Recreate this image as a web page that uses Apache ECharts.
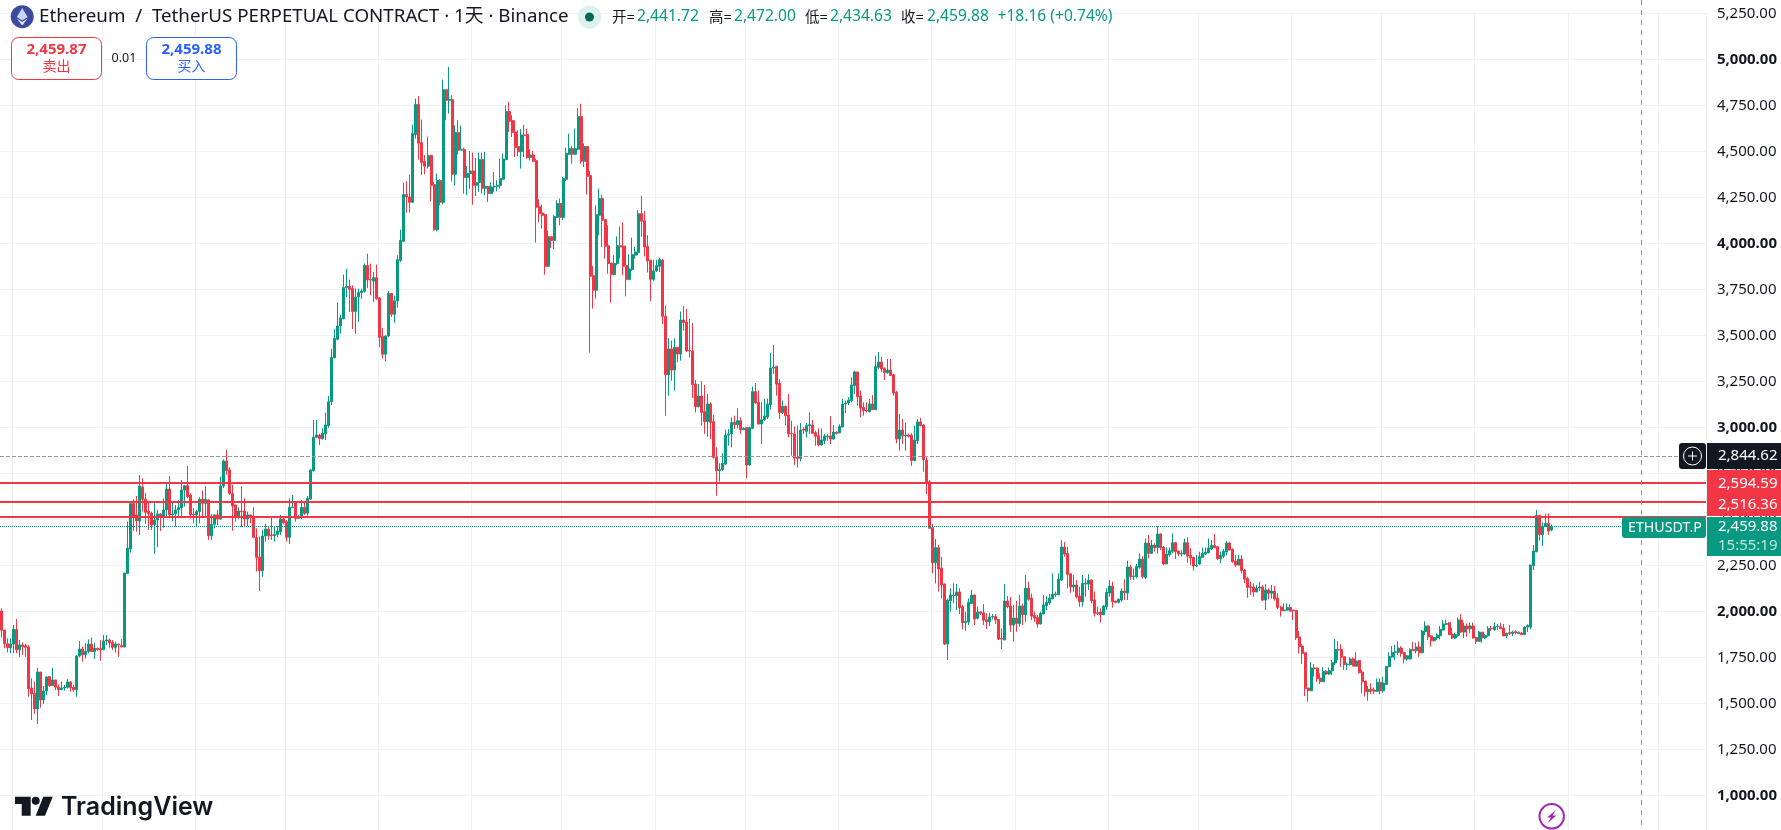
<!DOCTYPE html>
<html><head><meta charset="utf-8">
<style>html,body{margin:0;padding:0;background:#fff;overflow:hidden;height:830px}#c{width:1781px;height:860px}</style>
<script src="https://cdn.jsdelivr.net/npm/echarts@6/dist/echarts.min.js"></script>
</head><body><div id="c"></div>
<script>
// every row: open, close, high, low
const springBars = [
[2002,1897,2016,1858],[1898,1824,1898,1799],[1824,1802,1853,1777],[1802,1822,1853,1772],[1822,1902,1926,1772],[1902,1791,1958,1772],[1791,1817,1844,1753],[1817,1808,1831,1763],[1813,1804,1822,1753],[1806,1579,1817,1536],
[1583,1551,1636,1409],[1554,1469,1618,1442],[1469,1670,1692,1387],[1670,1518,1670,1476],[1518,1567,1594,1496],[1567,1643,1645,1545],[1645,1596,1645,1590],[1596,1627,1692,1596],[1627,1587,1627,1572],[1589,1574,1603,1540],
[1574,1583,1618,1572],[1583,1587,1600,1569],[1587,1616,1632,1580],[1616,1585,1621,1563],[1587,1574,1600,1563],[1574,1757,1762,1536],[1757,1795,1839,1750],[1795,1764,1808,1726],[1764,1782,1826,1744],[1782,1822,1848,1772],
[1822,1781,1858,1781],[1781,1799,1830,1741],[1799,1793,1802,1785],[1797,1791,1844,1732],[1791,1839,1871,1790],[1839,1844,1871,1817],[1844,1828,1853,1802],[1831,1804,1844,1790],[1804,1822,1835,1775],[1822,1817,1822,1753],
[1813,1806,1848,1804],[1806,2208,2208,1804],[2205,2344,2487,2205],[2339,2585,2600,2319],[2585,2514,2610,2437],[2524,2491,2627,2433],[2491,2681,2741,2415],[2676,2609,2723,2542],[2609,2538,2645,2475],[2544,2531,2596,2442],
[2533,2469,2542,2442],[2469,2496,2587,2312],[2496,2529,2551,2348],[2529,2515,2533,2437],[2515,2551,2614,2455],[2551,2665,2701,2515],[2665,2524,2736,2505],[2524,2529,2590,2490],[2529,2551,2578,2460],[2551,2563,2605,2511],
[2563,2659,2714,2511],[2659,2683,2687,2569],[2683,2623,2790,2614],[2632,2524,2641,2505],[2527,2524,2560,2478],[2524,2542,2551,2464],[2542,2609,2620,2478],[2609,2587,2656,2515],[2587,2609,2681,2515],[2605,2411,2609,2388],
[2411,2473,2529,2388],[2473,2524,2524,2451],[2524,2502,2551,2469],[2502,2681,2732,2496],[2681,2817,2826,2669],[2817,2765,2877,2741],[2768,2641,2783,2632],[2641,2572,2687,2438],[2578,2514,2578,2487],[2514,2545,2565,2500],
[2545,2542,2681,2457],[2545,2502,2614,2457],[2502,2524,2542,2464],[2524,2515,2524,2478],[2518,2402,2565,2397],[2402,2292,2451,2216],[2294,2221,2406,2110],[2221,2409,2442,2188],[2409,2447,2475,2379],[2447,2411,2460,2388],
[2415,2411,2514,2388],[2411,2418,2460,2379],[2418,2437,2464,2402],[2433,2502,2524,2415],[2502,2482,2516,2473],[2487,2402,2496,2379],[2402,2565,2614,2366],[2565,2567,2632,2560],[2596,2505,2596,2487],[2505,2515,2525,2505],
[2515,2565,2605,2500],[2565,2533,2596,2524],[2533,2614,2627,2520],[2610,2768,2772,2605],[2764,2946,3040,2760],[2946,2958,3040,2940],[2958,2939,2965,2904],[2939,2968,2995,2932],[2964,3013,3080,2931],[3009,3139,3170,2998]
];
const summerBars = [
[3139,3379,3428,3120],[3379,3482,3533,3373],[3478,3551,3678,3473],[3551,3594,3612,3509],[3591,3759,3830,3587],[3759,3765,3862,3708],[3765,3750,3803,3627],[3754,3630,3772,3533],[3630,3708,3754,3509],[3708,3732,3754,3573],
[3732,3741,3754,3699],[3739,3879,3890,3732],[3879,3801,3944,3757],[3804,3801,3890,3717],[3794,3813,3844,3681],[3813,3699,3884,3694],[3703,3489,3708,3435],[3493,3397,3540,3373],[3397,3496,3500,3359],[3496,3727,3741,3491],
[3727,3614,3727,3600],[3614,3687,3714,3569],[3687,3911,3935,3650],[3908,4015,4074,3899],[4011,4265,4330,4007],[4265,4252,4337,4167],[4252,4223,4373,4167],[4223,4596,4645,4219],[4592,4754,4787,4569],[4754,4544,4799,4455],
[4547,4439,4672,4370],[4444,4419,4479,4375],[4419,4477,4580,4406],[4477,4315,4482,4228],[4319,4074,4334,4069],[4074,4341,4379,4065],[4341,4223,4348,4207],[4223,4835,4890,4212],[4835,4777,4835,4669],[4777,4781,4959,4705],
[4781,4375,4805,4337],[4375,4602,4642,4315],[4602,4506,4669,4482],[4506,4511,4640,4506],[4511,4357,4520,4270],[4357,4379,4420,4261],[4379,4393,4502,4297],[4393,4315,4493,4210],[4315,4330,4464,4257],[4330,4455,4493,4279],
[4455,4299,4493,4270],[4299,4310,4497,4261],[4310,4270,4306,4225],[4270,4306,4333,4270],[4306,4310,4388,4279],[4310,4314,4343,4283],[4314,4352,4460,4297],[4348,4458,4488,4343],[4455,4716,4750,4451],[4716,4663,4768,4605],
[4667,4602,4696,4578],[4605,4520,4669,4469],[4526,4498,4614,4473],[4498,4589,4620,4406],[4589,4585,4645,4469],[4591,4466,4623,4460],[4466,4480,4511,4451],[4480,4446,4502,4443],[4449,4196,4460,4004],[4199,4161,4239,4116],
[4165,4152,4210,4080],[4156,3875,4161,3830],[3875,4036,4069,3872],[4036,4016,4036,3975],[4016,4145,4152,3968],[4141,4216,4234,4138],[4216,4141,4243,4098],[4141,4352,4361,4127],[4348,4488,4520,4337],[4484,4515,4596,4479],
[4515,4484,4529,4433],[4484,4515,4623,4479],[4511,4689,4736,4506],[4689,4446,4759,4433],[4446,4526,4542,4415],[4526,4364,4529,4265],[4368,3821,4393,3406],[3824,3745,3877,3645],[3745,4156,4207,3699],[4152,4243,4297,4044],
[4243,4125,4265,3980],[4129,3984,4129,3917],[3987,3890,4098,3835],[3893,3830,3893,3678],[3830,3890,3935,3826],[3890,3987,4038,3881],[3987,3980,4092,3917],[3984,3875,4114,3826],[3879,3804,3989,3712],[3804,3861,3940,3799],
[3857,3939,4031,3850],[3935,3953,3980,3917],[3949,4161,4180,3935],[4161,4120,4259,4035],[4123,3980,4176,3929],[3984,3904,4044,3841],[3908,3804,3908,3685],[3804,3850,3911,3794],[3850,3879,3911,3844],[3875,3911,3922,3844]
];
const autumnBars = [
[3909,3603,3915,3561],[3603,3286,3661,3063],[3286,3426,3484,3172],[3426,3311,3471,3253],[3311,3435,3484,3199],[3435,3398,3435,3353],[3398,3583,3629,3362],[3583,3569,3658,3525],[3572,3415,3643,3411],[3418,3415,3589,3380],
[3415,3232,3567,3159],[3235,3112,3257,3081],[3112,3170,3235,3108],[3170,3081,3250,3009],[3085,3031,3230,2964],[3031,3127,3181,2951],[3127,3027,3136,2936],[3031,2837,3067,2830],[2840,2764,2891,2628],[2764,2770,2804,2705],
[2770,2804,2860,2764],[2800,2958,2987,2795],[2958,2964,2991,2900],[2964,3027,3054,2891],[3027,3014,3063,2991],[3014,3036,3103,2994],[3036,2987,3054,2964],[2987,2994,3000,2985],[2998,2795,3000,2724],[2795,2998,3003,2790],
[2994,3194,3221,2990],[3194,3132,3241,3127],[3136,3018,3199,3015],[3018,3041,3136,2909],[3041,3060,3154,3036],[3056,3127,3157,3045],[3123,3322,3404,3096],[3322,3326,3447,3290],[3330,3235,3335,3172],[3239,3081,3262,3045],
[3081,3114,3145,3072],[3114,3063,3118,3012],[3067,2964,3181,2945],[2967,2964,3036,2846],[2964,2833,3005,2795],[2837,2831,3009,2782],[2831,2985,3023,2815],[2991,2985,3000,2964],[2978,3009,3023,2945],[3009,3014,3081,2964],
[3012,2967,3040,2965],[2971,2951,2982,2900],[2954,2904,2994,2896],[2904,2931,2994,2900],[2927,2953,2964,2909],[2949,2953,2964,2927],[2953,2936,3060,2909],[2936,2974,3012,2933],[2974,2967,2978,2960],[2970,3005,3016,2967],
[3002,3127,3154,3000],[3127,3132,3145,3078],[3132,3148,3163,3121],[3145,3230,3272,3136],[3226,3301,3308,3181],[3301,3166,3301,3118],[3170,3105,3199,3054],[3108,3090,3136,3063],[3094,3089,3136,3081],[3085,3127,3154,3081],
[3127,3096,3176,3094],[3096,3330,3389,3094],[3326,3355,3409,3317],[3355,3317,3384,3299],[3320,3297,3326,3257],[3297,3311,3371,3290],[3311,3282,3371,3281],[3286,3186,3290,3172],[3190,2936,3199,2913],[2936,2985,3072,2873],
[2985,2954,3045,2909],[2954,2958,3027,2873],[2958,2951,2965,2945],[2958,2819,2967,2791],[2819,2931,3009,2815],[2927,3029,3045,2909],[3029,3009,3051,3005],[3012,2824,3018,2759]
];
const winterBars = [
[2822,2701,2837,2637],[2704,2451,2714,2451],[2454,2264,2474,2206],[2264,2346,2393,2152],[2346,2230,2360,2107],[2235,2143,2297,2070],[2148,1822,2152,1817],[1822,2061,2070,1735],[2058,2088,2125,1998],[2085,2088,2152,2043],
[2085,2105,2148,2007],[2105,2020,2125,1985],[2025,1938,2034,1902],[1938,1945,1998,1895],[1942,2049,2070,1925],[2043,2088,2116,2040],[2088,1958,2092,1925],[1962,1996,2025,1956],[1996,1989,2000,1980],[1992,1951,2039,1925],
[1954,1943,1989,1904],[1943,1969,1992,1920],[1969,1972,1985,1956],[1972,1953,1985,1931],[1956,1849,1958,1844],[1853,1849,1907,1795],[1844,2056,2148,1844],[2056,2025,2083,2016],[2029,1925,2079,1889],[1925,1963,2034,1835],
[1963,1934,2056,1889],[1934,2029,2088,1916],[2029,1981,2043,1925],[1981,2126,2197,1943],[2126,2065,2161,2058],[2072,1974,2097,1952],[1978,1963,1998,1943],[1967,1931,1980,1911],[1931,1989,1998,1929],[1985,2034,2088,1985],
[2030,2049,2083,2007],[2045,2072,2094,2034],[2068,2094,2206,2065],[2090,2094,2107,2079],[2090,2175,2206,2088],[2170,2349,2387,2165],[2349,2311,2376,2297],[2315,2201,2351,2125],[2204,2132,2204,2101],[2132,2143,2197,2107],
[2143,2079,2170,2070],[2083,2052,2134,2025],[2052,2152,2197,2025],[2148,2152,2179,2079],[2148,2170,2201,2116],[2170,2058,2174,2043],[2061,1989,2107,1971],[1992,1989,2025,1980],[1996,1981,2016,1938],[1981,2029,2034,1980],
[2025,2103,2125,2007],[2099,2137,2170,2079],[2137,2052,2161,2020],[2056,2049,2056,2043],[2049,2065,2070,2043],[2061,2110,2125,2052],[2110,2101,2174,2061],[2099,2241,2275,2061],[2241,2188,2252,2170],[2188,2192,2233,2170],
[2188,2243,2257,2179],[2239,2284,2315,2232],[2284,2188,2300,2179],[2184,2371,2396,2175],[2371,2315,2415,2288],[2315,2360,2387,2311],[2360,2346,2369,2324],[2346,2420,2464,2315],[2420,2346,2424,2333],[2349,2257,2355,2251],
[2257,2311,2347,2257],[2307,2329,2347,2297],[2326,2373,2424,2315],[2373,2324,2378,2284],[2328,2311,2328,2300],[2311,2315,2333,2297],[2311,2373,2396,2306],[2373,2300,2402,2264],[2304,2290,2342,2251],[2293,2246,2297,2221],
[2246,2250,2306,2240],[2257,2297,2324,2251],[2293,2315,2346,2290],[2311,2322,2347,2306],[2318,2344,2396,2315],[2340,2358,2387,2333],[2358,2347,2420,2342],[2351,2286,2351,2279],[2286,2304,2324,2261],[2300,2326,2337,2288],
[2322,2371,2382,2306],[2371,2333,2378,2329],[2337,2270,2342,2264],[2273,2251,2306,2242],[2251,2284,2306,2251],[2284,2221,2306,2206],[2224,2175,2230,2152],[2179,2130,2188,2074],[2134,2130,2161,2089],[2132,2105,2152,2079]
];
const lateBars = [
[2105,2126,2143,2105],[2126,2132,2160,2110],
[2132,2061,2143,2056],[2061,2116,2148,2007],[2116,2098,2125,2065],[2098,2110,2143,2070],[2110,2068,2139,2058],[2072,2020,2097,2012],[2023,2003,2029,1971],[2003,2007,2043,2003],[2007,2021,2043,2003],[2021,2001,2039,1998],
[2007,2003,2007,1952],[2005,1856,2007,1844],[1860,1808,1893,1771],[1811,1771,1822,1713],[1775,1579,1775,1539],[1583,1568,1583,1509],[1568,1692,1724,1568],[1692,1688,1713,1645],[1692,1634,1695,1617],[1637,1617,1663,1605],
[1617,1673,1695,1617],[1673,1659,1681,1654],[1659,1677,1695,1654],[1677,1722,1735,1654],[1719,1793,1849,1708],[1793,1789,1838,1735],[1793,1750,1822,1699],[1753,1710,1753,1681],[1710,1713,1721,1681],[1710,1741,1750,1706],
[1741,1702,1750,1702],[1702,1730,1777,1699],[1733,1666,1735,1663],[1670,1617,1681,1554],[1621,1563,1621,1536],[1563,1576,1594,1514],[1576,1568,1608,1550],[1572,1565,1586,1550],[1565,1614,1635,1563],[1614,1568,1635,1550],
[1568,1610,1644,1557],[1603,1701,1701,1599],[1699,1755,1777,1695],[1751,1777,1811,1748],[1777,1780,1817,1735],[1777,1800,1835,1762],[1800,1771,1811,1753],[1775,1741,1780,1717],[1741,1759,1762,1731],[1741,1793,1798,1739],
[1793,1786,1835,1786],[1786,1806,1829,1771],[1806,1775,1835,1753],[1775,1893,1898,1771],[1889,1920,1945,1871],[1920,1862,1925,1844],[1866,1840,1871,1808],[1840,1858,1862,1835],[1855,1871,1880,1844],[1867,1902,1920,1847],
[1898,1931,1953,1895],[1929,1934,1955,1925],[1938,1873,1943,1871],[1876,1855,1911,1849],[1855,1873,1884,1849],[1869,1953,1967,1862],[1953,1887,1985,1884],[1887,1920,1938,1855],[1920,1905,1934,1862],[1905,1920,1938,1880],
[1920,1855,1938,1851],[1858,1837,1862,1822],[1837,1887,1893,1835],[1887,1855,1887,1829],[1855,1869,1876,1849],[1867,1907,1920,1862],[1907,1905,1920,1894],[1900,1916,1940,1894],[1916,1920,1931,1898],[1916,1905,1936,1904],
[1909,1866,1931,1866],[1866,1880,1884,1855],[1884,1878,1925,1871],[1880,1887,1895,1865],[1889,1884,1898,1875],[1880,1886,1891,1880],[1882,1873,1887,1873],[1873,1914,1918,1871],[1914,1922,1929,1887],[1914,2252,2252,1902],
[2248,2328,2360,2224],[2324,2521,2550,2320],[2521,2416,2525,2384],[2416,2462,2483,2355],[2460,2478,2532,2460],[2478,2436,2532,2416],[2441.72,2459.88,2472,2434.63]
];
const firstDay = '2025-03-28';
const emptyDaysAfter = 51;
const priceTicks = {min:750,max:5250,step:250};
const supportLines = [2697,2594.59,2516.36];
const markedPrice = 2844.62;
const lastPrice = 2459.88;

const bars = springBars.concat(summerBars,autumnBars,winterBars,lateBars);
const candles = bars.map(b=>[b[0],b[1],b[3],b[2]]);
const dates = [];
{const d=new Date(firstDay+'T00:00:00Z');
 for(let i=0;i<bars.length+emptyDaysAfter;i++){dates.push(d.toISOString().slice(0,10));d.setUTCDate(d.getUTCDate()+1);}}

const UI='"Noto Sans","Noto Sans CJK SC",sans-serif';
const UP='#089981',DOWN='#F23645',INK='#131722';
const t=(x,y,s,fill,size,extra)=>({type:'text',x,y,silent:true,z:50,style:Object.assign({text:s,fill,font:`${size}px ${UI}`,textVerticalAlign:'middle'},extra||{})});
const box=(x,y,w,h,fill,r,stroke)=>({type:'rect',silent:true,z:40,shape:{x,y,width:w,height:h,r:r||0},style:{fill,stroke:stroke||null,lineWidth:stroke?1:0}});

const overlay=[
 {type:'line',silent:true,z:30,shape:{x1:1641.5,y1:0,x2:1641.5,y2:830},style:{stroke:'#8d9098',lineWidth:1,lineDash:[5,5]}},
 // title row
 {type:'circle',silent:true,z:40,shape:{cx:22.2,cy:16.7,r:11.5},style:{fill:'#3C4A9E'}},
 {type:'polygon',silent:true,z:41,shape:{points:[[22.2,8],[16.8,17],[22.2,20.5],[27.6,17]]},style:{fill:'#C9D3F5'}},
 {type:'polygon',silent:true,z:41,shape:{points:[[16.8,18.5],[22.2,25.5],[27.6,18.5],[22.2,22]]},style:{fill:'#E3E8FA'}},
 t(39,17,'Ethereum  /  TetherUS PERPETUAL CONTRACT · 1天 · Binance',INK,18.75),
 {type:'circle',silent:true,z:40,shape:{cx:589.5,cy:17,r:11.5},style:{fill:'#DDF1ED'}},
 {type:'circle',silent:true,z:41,shape:{cx:589.5,cy:17,r:4.5},style:{fill:'#056656'}},
 t(612,18,'开=',INK,14.5),t(637,17,'2,441.72',UP,15.6),
 t(709,18,'高=',INK,14.5),t(734,17,'2,472.00',UP,15.6),
 t(805,18,'低=',INK,14.5),t(830,17,'2,434.63',UP,15.6),
 t(901,18,'收=',INK,14.5),t(927,17,'2,459.88',UP,15.6),
 t(997.5,17,'+18.16 (+0.74%)',UP,15.6),
 // order buttons
 box(11.5,37.5,90,42,'#fff',7,DOWN),
 t(56.5,50,'2,459.87',DOWN,15,{textAlign:'center',font:`bold 15px ${UI}`}),
 t(56.5,67,'卖出',DOWN,14,{textAlign:'center'}),
 t(124,58,'0.01',INK,12.5,{textAlign:'center'}),
 box(146.5,37.5,90,42,'#fff',7,'#2962FF'),
 t(191.5,50,'2,459.88',"#2962FF",15,{textAlign:'center',font:`bold 15px ${UI}`}),
 t(191.5,67,'买入',"#2962FF",14,{textAlign:'center'}),
 // price tags on the scale
 box(1679,443,27,26,INK,3),
 {type:'circle',silent:true,z:41,shape:{cx:1692.5,cy:456,r:9},style:{fill:'none',stroke:'#fff',lineWidth:1}},
 {type:'line',silent:true,z:41,shape:{x1:1688,y1:456,x2:1697,y2:456},style:{stroke:'#fff',lineWidth:1}},
 {type:'line',silent:true,z:41,shape:{x1:1692.5,y1:451.5,x2:1692.5,y2:460.5},style:{stroke:'#fff',lineWidth:1}},
 box(1707,443,75,26,INK),
 t(1718,456,'2,844.62','#fff',15),
 box(1707,470,75,46,DOWN),
 t(1718,484,'2,594.59','#fff',15),t(1718,505,'2,516.36','#fff',15),
 box(1622,517,84,21,UP,3),
 t(1628,527.5,'ETHUSDT.P','#fff',14.2),
 box(1707,517,75,39,UP),
 t(1718,527,'2,459.88','#fff',15),t(1718,545.5,'15:55:19','#bfe6de',15),
 // brand
 {type:'polygon',silent:true,z:40,shape:{points:[[15,796.7],[30.7,796.7],[30.7,815.7],[21.7,815.7],[21.7,804],[15,804]]},style:{fill:INK}},
 {type:'circle',silent:true,z:40,shape:{cx:35.7,cy:800.7,r:4},style:{fill:INK}},
 {type:'polygon',silent:true,z:40,shape:{points:[[43.3,796.7],[52.7,796.7],[45,815.7],[35.7,815.7]]},style:{fill:INK}},
 {type:'text',x:61,y:807,silent:true,z:40,style:{text:'TradingView',fill:INK,font:'600 25px Inter,sans-serif',textVerticalAlign:'middle'}},
 // lightning badge
 {type:'circle',silent:true,z:40,shape:{cx:1551.7,cy:816.3,r:12.2},style:{fill:'#fff',stroke:'#9C27B0',lineWidth:2}},
 {type:'polygon',silent:true,z:41,shape:{points:[[1556,810],[1547,817.5],[1551,817.5],[1547.5,823],[1556.5,815.5],[1552.5,815.5]]},style:{fill:'#9C27B0'}}
];

const chart=echarts.init(document.getElementById('c'),null,{renderer:'canvas'});
const priceLine=(v,color,type,width)=>({yAxis:v,lineStyle:{color,type,width}});
chart.setOption({
 animation:false,backgroundColor:'#fff',
 grid:{left:0,width:1706,top:13.3,height:828,containLabel:false},
 xAxis:{type:'category',data:dates,boundaryGap:true,axisLine:{show:false},axisTick:{show:false},axisLabel:{show:false},
   splitLine:{show:true,interval:(i,v)=>v.slice(8)==='01',lineStyle:{color:'#F0F1F4',width:1}}},
 yAxis:{type:'value',position:'right',min:priceTicks.min,max:priceTicks.max,interval:priceTicks.step,scale:true,
   axisLine:{show:false},axisTick:{show:false},
   splitLine:{show:true,lineStyle:{color:'#F0F1F4',width:1}},
   axisLabel:{margin:11,fontFamily:'Noto Sans',fontSize:15,color:INK,
     formatter:v=>{ if(v<1000) return ''; const s=v.toLocaleString('en-US',{minimumFractionDigits:2});
       return v%1000===0?`{b|${s}}`:s;},
     rich:{b:{fontFamily:'Noto Sans',fontSize:15,fontWeight:'bold',color:INK}}}},
 series:[{type:'candlestick',data:candles,barWidth:2.5,
   itemStyle:{color:UP,color0:DOWN,borderColor:UP,borderColor0:DOWN,borderWidth:1},
   markLine:{silent:true,symbol:'none',label:{show:false},animation:false,z:20,
     data:[priceLine(markedPrice,'#9598A1','dashed',1)].concat(
       supportLines.map(v=>priceLine(v,DOWN,'solid',2)),
       [priceLine(lastPrice,UP,'dotted',1)])}}],
 graphic:overlay
});
</script></body></html>
